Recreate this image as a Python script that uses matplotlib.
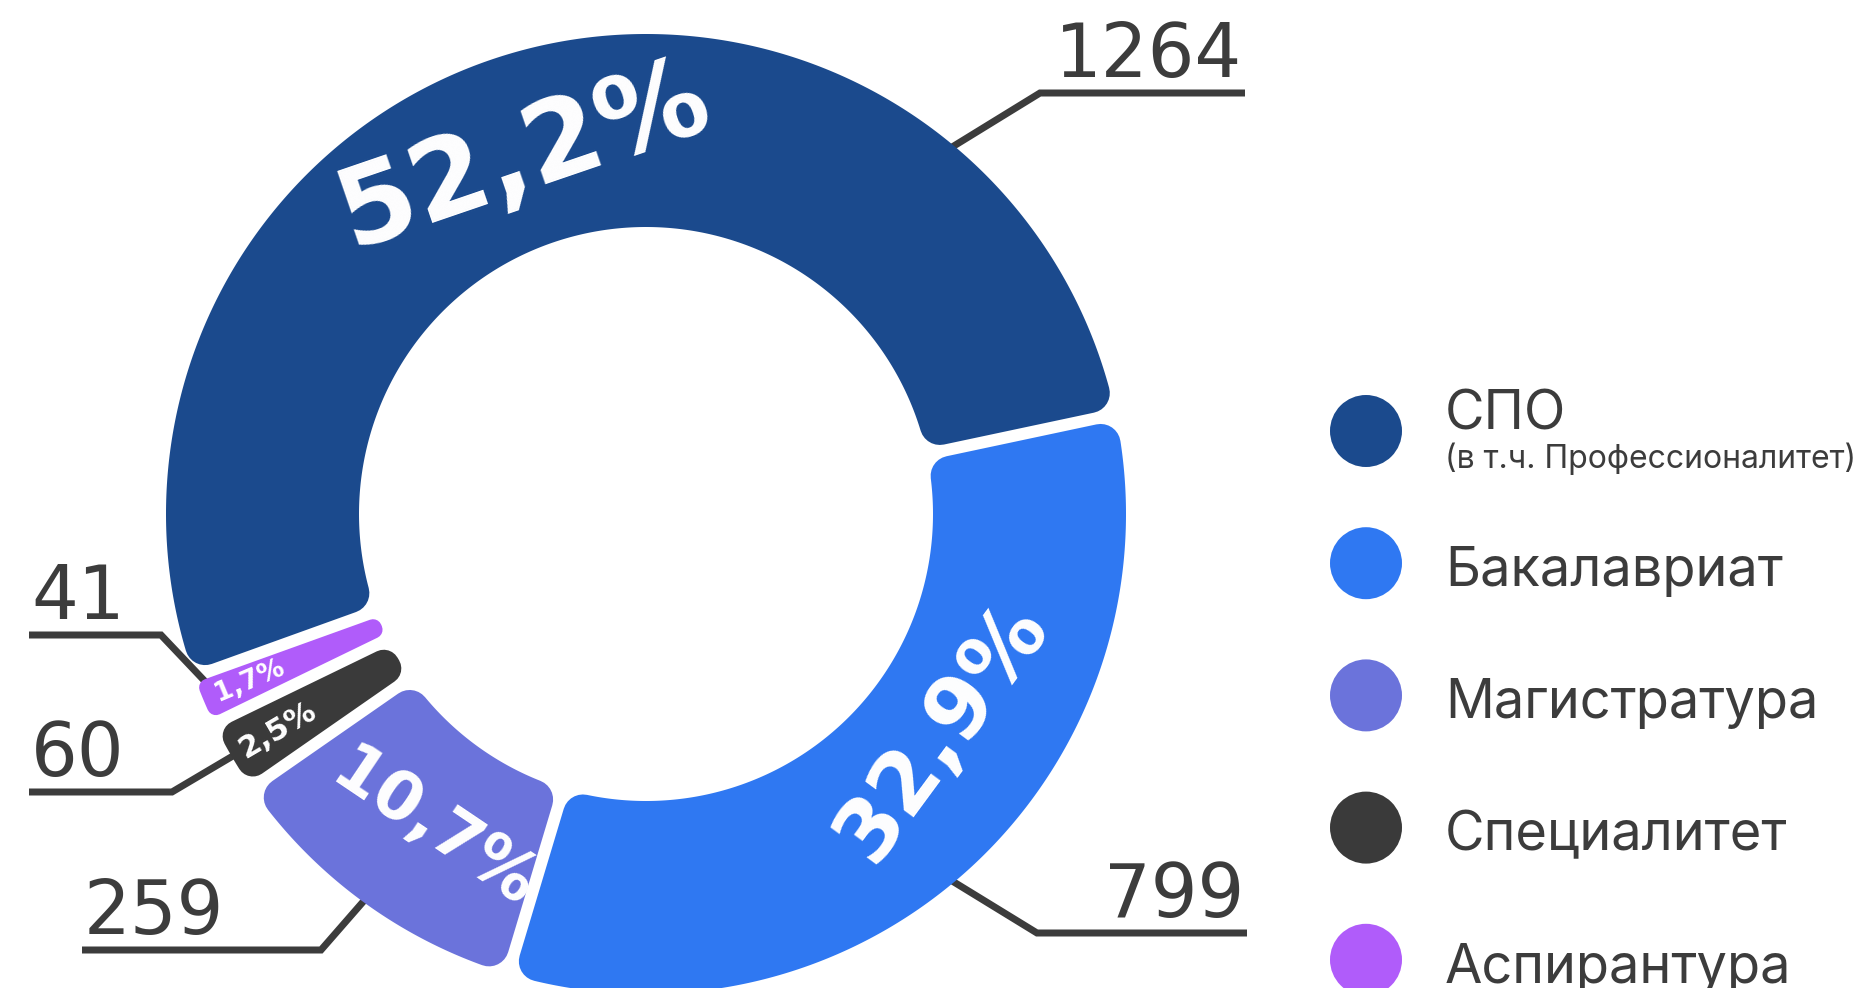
import numpy as np
import matplotlib
matplotlib.use("Agg")
import matplotlib.pyplot as plt
from matplotlib.patches import Polygon, Ellipse

# ---------------- data ----------------
categories = ["СПО", "Бакалавриат", "Магистратура", "Специалитет", "Аспирантура"]
sublabels = ["(в т.ч. Профессионалитет)", "", "", "", ""]
values = [1264, 799, 259, 60, 41]
pct_labels = ["52,2%", "32,9%", "10,7%", "2,5%", "1,7%"]
colors = ["#1B4A8D", "#2F78F2", "#6B73DB", "#3A3A3A", "#B05CFA"]

# ---------------- layout ----------------
W, H = 1869, 988
fig = plt.figure(figsize=(W / 100, H / 100), dpi=100)
ax = fig.add_axes([0, 0, 1, 1])
ax.set_xlim(0, W)
ax.set_ylim(0, H)
ax.axis("off")

PT = 72 / 100.0          # points per pixel
cx, cy = 646, H - 514    # donut centre (pixel coords, y up)
R_out, R_in = 480, 287
gap = 12
corner = 20
start_angle = 12.0       # boundary between first and second slice
TXT = "#3C3C3C"

total = float(sum(values))
spans = [v / total * 360.0 for v in values]

# slices: first slice goes counter-clockwise from start, the rest clockwise
bounds = [None] * len(values)
bounds[0] = (start_angle, start_angle + spans[0])
theta = start_angle
for i in range(1, len(values)):
    bounds[i] = (theta - spans[i], theta)
    theta -= spans[i]


def draw_segment(a0, a1, color):
    half = np.radians(a1 - a0) / 2
    k = (R_in * np.sin(half) - gap / 2) / (1 - np.sin(half))
    rc = min(corner, 0.9 * k)
    d = gap / 2 + rc
    ro, ri = R_out - rc, R_in + rc
    do, di = np.arcsin(d / ro), np.arcsin(d / ri)
    A0, A1 = np.radians(a0), np.radians(a1)
    to = np.linspace(A0 + do, A1 - do, 300)
    ti = np.linspace(A1 - di, A0 + di, 300)
    xs = np.concatenate([cx + ro * np.cos(to), cx + ri * np.cos(ti)])
    ys = np.concatenate([cy + ro * np.sin(to), cy + ri * np.sin(ti)])
    ax.add_patch(Polygon(np.c_[xs, ys], closed=True, fc=color, ec=color,
                         lw=2 * rc * PT, joinstyle="round", zorder=3))


for (a0, a1), c in zip(bounds, colors):
    draw_segment(a0, a1, c)

# ---------------- percentage labels ----------------
label_dang = [3.0, 11.0, 2.0, 0.0, 0.0]
label_rad = [378, 368, 380, 427, 430]
label_size = [80, 62, 48, 22, 19]
label_radial = [False, False, False, True, True]
for i, txt in enumerate(pct_labels):
    a0, a1 = bounds[i]
    mid = (a0 + a1) / 2 + label_dang[i]
    m = np.radians(mid)
    x = cx + label_rad[i] * np.cos(m)
    y = cy + label_rad[i] * np.sin(m)
    if label_radial[i]:
        rot = (mid % 360) - 180
    else:
        rot = mid - 90 if np.sin(m) >= 0 else mid + 90
    ax.text(x, y, txt, color="white", fontsize=label_size[i],
            fontweight="bold", family=["DejaVu Sans"], rotation=rot,
            rotation_mode="anchor", ha="center", va="center", zorder=5)

# ---------------- leader lines and value labels ----------------
leader_angle = [50.7, -50.7, None, None, None]
leader_elbow = [(1040, 93), (1037, 933), (321, 950), (172, 792), (161, 635)]
leader_end = [(1245, 93), (1247, 933), (82, 950), (29, 792), (29, 635)]
value_side = ["right", "right", "left", "left", "left"]
for i, v in enumerate(values):
    a0, a1 = bounds[i]
    ang = leader_angle[i] if leader_angle[i] is not None else (a0 + a1) / 2
    t = np.radians(ang)
    sx, sy = cx + (R_out - 15) * np.cos(t), cy + (R_out - 15) * np.sin(t)
    ex, ey = leader_elbow[i][0], H - leader_elbow[i][1]
    fx, fy = leader_end[i][0], H - leader_end[i][1]
    ax.plot([sx, ex, fx], [sy, ey, fy], color=TXT, lw=7 * PT,
            solid_joinstyle="miter", solid_capstyle="butt", zorder=2)
    tx = fx - 3 if value_side[i] == "right" else fx + 2
    ax.text(tx, fy + 16, str(v), color=TXT, fontsize=53,
            family=["DejaVu Sans"], ha=value_side[i], va="baseline", zorder=4)

# ---------------- legend ----------------
leg_x, leg_y0, leg_dy = 1366, 431, 132.2
leg_tx = 1445
for i, (name, sub, c) in enumerate(zip(categories, sublabels, colors)):
    yc = H - (leg_y0 + i * leg_dy)
    ax.add_patch(Ellipse((leg_x, yc), 72, 72, fc=c, ec="none", zorder=3))
    if sub:
        ax.text(leg_tx, yc + 1, name, color=TXT, fontsize=39,
                family=["Inter", "DejaVu Sans"], ha="left", va="baseline")
        ax.text(leg_tx, yc - 37, sub, color=TXT, fontsize=23,
                family=["Inter", "DejaVu Sans"], ha="left", va="baseline")
    else:
        ax.text(leg_tx, yc - 23, name, color=TXT, fontsize=39,
                family=["Inter", "DejaVu Sans"], ha="left", va="baseline")

fig.savefig("out.png", dpi=100, facecolor="white")
